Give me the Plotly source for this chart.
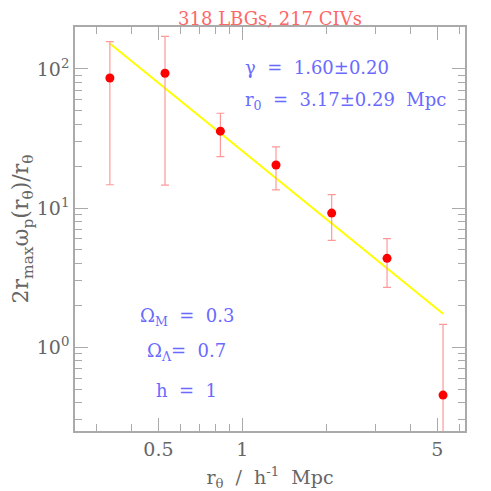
import plotly.graph_objects as go

r_theta = [0.335, 0.528, 0.834, 1.32, 2.09, 3.30, 5.24]
w_p = [86, 93, 35.7, 20.4, 9.2, 4.35, 0.453]
w_hi = [157, 171, 48, 27.5, 12.5, 6.03, 1.46]
w_lo = [14.7, 14.6, 23.4, 13.5, 5.86, 2.69, 0.1]

# power-law fit line endpoints
fit_x = [0.335, 5.24]
fit_y = [152, 1.74]

x_major = [0.5, 1, 5]
x_minor = [0.3, 0.4, 0.6, 0.7, 0.8, 0.9, 2, 3, 4, 6]
y_major = [1, 10, 100]
y_labels = ["10<sup>0</sup>", "10<sup>1</sup>", "10<sup>2</sup>"]
y_minor = [0.3, 0.4, 0.5, 0.6, 0.7, 0.8, 0.9, 2, 3, 4, 5, 6, 7, 8, 9,
           20, 30, 40, 50, 60, 70, 80, 90, 200]

serif = "DejaVu Serif"
grey = "#666666"
axgrey = "#aaaaaa"
blue = "#6a6aff"

err_up = [h - v for h, v in zip(w_hi, w_p)]
err_dn = [v - l for v, l in zip(w_p, w_lo)]

fig = go.Figure()
fig.add_trace(go.Scatter(
    x=fit_x, y=fit_y, mode="lines",
    line=dict(color="#ffff00", width=2), showlegend=False,
))
fig.add_trace(go.Scatter(
    x=r_theta, y=w_p, mode="markers",
    marker=dict(color="#ff0000", size=9),
    error_y=dict(type="data", array=err_up, arrayminus=err_dn,
                 color="#ff9999", thickness=1.2, width=4),
    showlegend=False,
))

axis_common = dict(
    type="log", showgrid=False, zeroline=False, automargin=False,
    showline=True, linecolor=axgrey, linewidth=1.5, mirror="ticks",
    ticks="inside", ticklen=13, tickcolor=axgrey, tickwidth=1.3,
    tickfont=dict(family=serif, size=19, color=grey),
)

fig.update_xaxes(
    **axis_common,
    range=[-0.6, 0.798],
    tickmode="array", tickvals=x_major, ticktext=["0.5", "1", "5"],
    minor=dict(tickmode="array", tickvals=x_minor, ticks="inside",
               ticklen=7, tickcolor=axgrey, showgrid=False),
    title=dict(text="r<sub>θ</sub>  /  h<sup>-1</sup>  Mpc",
               font=dict(family=serif, size=19, color=grey), standoff=12),
)
fig.update_yaxes(
    **axis_common,
    range=[-0.602, 2.301],
    tickmode="array", tickvals=y_major, ticktext=y_labels,
    minor=dict(tickmode="array", tickvals=y_minor, ticks="inside",
               ticklen=7, tickcolor=axgrey, showgrid=False),
    title=dict(text="2r<sub>max</sub>ω<sub>p</sub>(r<sub>θ</sub>)/r<sub>θ</sub>",
               font=dict(family=serif, size=22, color=grey), standoff=8),
)

notes = [
    (0.43, 0.899, "γ  =  1.60±0.20", "left"),
    (0.43, 0.817, "r<sub>0</sub>  =  3.17±0.29  Mpc", "left"),
    (0.287, 0.282, "Ω<sub>M</sub>  =  0.3", "center"),
    (0.287, 0.196, "Ω<sub>Λ</sub>=  0.7", "center"),
    (0.287, 0.101, "h  =  1", "center"),
]
for nx, ny, txt, anchor in notes:
    fig.add_annotation(
        x=nx, y=ny, xref="paper", yref="paper", text=txt, showarrow=False,
        xanchor=anchor, yanchor="middle",
        font=dict(family=serif, size=18, color=blue),
    )

# page body adds an 8px offset, so the figure is sized to fit the window
fig.update_layout(
    width=483, height=483,
    margin=dict(l=67, r=26, t=19, b=60),
    paper_bgcolor="white", plot_bgcolor="white",
    title=dict(text="318 LBGs, 217 CIVs", x=0.5, xref="paper",
               xanchor="center", y=0.977, yref="container", yanchor="middle",
               font=dict(family=serif, size=18, color="#ff6666")),
)

fig.write_html("out.html")
